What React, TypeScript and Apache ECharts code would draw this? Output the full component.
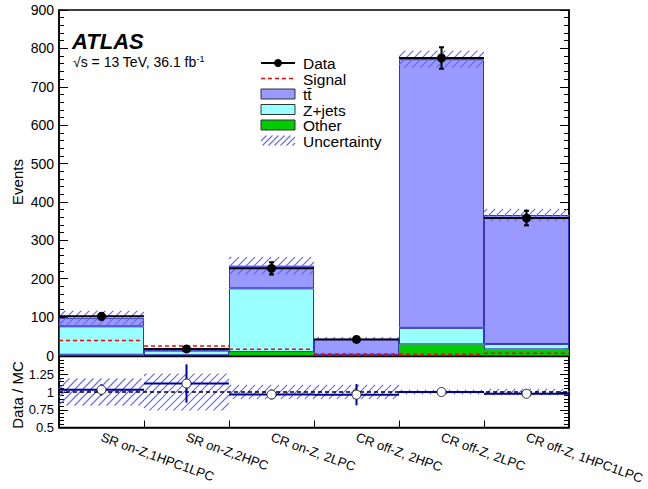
import React, { useEffect, useRef } from 'react';
import * as echarts from 'echarts';

const categories = ['SR on-Z,1HPC1LPC', 'SR on-Z,2HPC', 'CR on-Z, 2LPC', 'CR off-Z, 2HPC', 'CR off-Z, 2LPC', 'CR off-Z, 1HPC1LPC'];
const otherValues = [2, 0.7, 9, 0.6, 29, 16];
const zjetsValues = [74, 12, 166, 1, 43, 14];
const ttValues = [22, 2.5, 59, 42, 700, 336];
const mcTotal = [98, 15.2, 234, 43.6, 772, 366];
const mcUncertainty = [19, 4, 23, 4.4, 22, 16];
const signalValues = [39, 25, 16, 4, 3, 6];
const dataValues = [102, 17, 227, 42, 775, 358];
const dataErrors = [8, 4, 16, 6.5, 28, 19];
const ratioValues = [1.03, 1.12, 0.965, 0.963, 1.0, 0.975];
const ratioErrors = [0.08, 0.27, 0.07, 0.15, 0.036, 0.052];
const ratioBand = [0.19, 0.26, 0.1, 0.1, 0.03, 0.044];
const mainTicks = { min: 0, max: 900, interval: 100 };
const ratioTicks = { min: 0.5, max: 1.5, interval: 0.25 };

const FONT = '"Liberation Sans", Arial, Helvetica, sans-serif';
const HATCH = 'rgb(100, 100, 255)';

function hatchLines(x0: number, y0: number, x1: number, y1: number, step: number, stroke: string) {
  const out: any[] = [];
  const cStart = Math.ceil((x0 + y0) / step) * step;
  for (let c = cStart; c <= x1 + y1; c += step) {
    const lo = Math.max(x0, c - y1);
    const hi = Math.min(x1, c - y0);
    if (hi - lo > 0.3) {
      out.push({ type: 'line', silent: true, shape: { x1: lo, y1: c - lo, x2: hi, y2: c - hi }, style: { stroke, lineWidth: 1.1, opacity: 1 } });
    }
  }
  return out;
}

function hatchRender(params: any, api: any) {
  const i = api.value(0);
  const lo = api.value(1);
  const hi = api.value(2);
  const pTop = api.coord([i, hi]);
  const pBot = api.coord([i, lo]);
  const w = api.size([1, 0])[0];
  return { type: 'group', children: hatchLines(pTop[0] - w / 2, pTop[1], pTop[0] + w / 2, pBot[1], 8, HATCH) };
}

function buildOption() {
  const yAxisCommon = (gridIndex: number, t: any, right: boolean, labels: boolean, fmt?: any) => ({
    type: 'value', gridIndex, min: t.min, max: t.max, interval: t.interval,
    position: right ? 'right' : 'left',
    axisLine: { show: true, lineStyle: { color: '#000', width: 1.5 } },
    axisTick: { show: true, inside: true, length: 9, lineStyle: { color: '#000', width: 1 } },
    minorTick: { show: true, splitNumber: 5, length: 5, lineStyle: { color: '#000', width: 1 } },
    splitLine: { show: false },
    axisLabel: {
      show: labels, color: '#000', fontFamily: FONT, fontSize: gridIndex === 0 ? 14 : 13, margin: 5,
      showMinLabel: true, showMaxLabel: true, hideOverlap: false,
      formatter: fmt,
    },
  });
  const xAxisCommon = (gridIndex: number, labels: boolean) => ({
    type: 'category', gridIndex, data: categories, boundaryGap: true,
    axisLine: { show: true, lineStyle: { color: '#000', width: 1.5 } },
    axisTick: { show: true, inside: true, length: 7, alignWithLabel: false, interval: 0, lineStyle: { color: '#000' } },
    splitLine: { show: false },
    axisLabel: labels
      ? { show: true, interval: 0, rotate: -20, margin: 9, color: '#000', fontFamily: FONT, fontSize: 13, hideOverlap: false }
      : { show: false },
  });

  const barBase = (name: string, values: number[], color: string, border: boolean) => ({
    name, type: 'bar', xAxisIndex: 0, yAxisIndex: 0, stack: 'mc', data: values,
    barCategoryGap: '0%', z: 2,
    itemStyle: { color, borderColor: border ? '#3434c8' : color, borderWidth: border ? 1 : 0 },
    emphasis: { disabled: true },
  });

  const legendRows = [63, 78.5, 94, 109.5, 125, 140.5];
  const legendNames = ['Data', 'Signal', 't\u0074\u0304', 'Z+jets', 'Other', 'Uncertainty'];
  const lx0 = 261, lx1 = 295, tx = 303;
  const legendGraphics: any[] = [
    { type: 'line', shape: { x1: lx0, y1: legendRows[0], x2: lx1, y2: legendRows[0] }, style: { stroke: '#000', lineWidth: 2 } },
    { type: 'circle', shape: { cx: (lx0 + lx1) / 2, cy: legendRows[0], r: 4 }, style: { fill: '#000' } },
    { type: 'line', shape: { x1: lx0, y1: legendRows[1], x2: lx1, y2: legendRows[1] }, style: { stroke: '#ff0000', lineWidth: 1.5, lineDash: [4, 3] } },
    { type: 'rect', shape: { x: lx0, y: legendRows[2] - 5, width: lx1 - lx0, height: 10 }, style: { fill: '#9999ff', stroke: '#333', lineWidth: 1 } },
    { type: 'rect', shape: { x: lx0, y: legendRows[3] - 5, width: lx1 - lx0, height: 10 }, style: { fill: '#99ffff', stroke: '#333', lineWidth: 1 } },
    { type: 'rect', shape: { x: lx0, y: legendRows[4] - 5, width: lx1 - lx0, height: 10 }, style: { fill: '#00cc00', stroke: '#333', lineWidth: 1 } },
    ...hatchLines(lx0, legendRows[5] - 5, lx1, legendRows[5] + 5, 6, HATCH),
    ...legendNames.map((n, k) => ({
      type: 'text', x: tx, y: legendRows[k] + 0.5,
      style: { text: n, fontFamily: FONT, fontSize: 15.5, lineHeight: 15, fill: '#000', align: 'left', verticalAlign: 'middle' },
    })),
  ];

  return {
    animation: false,
    backgroundColor: '#fff',
    grid: [
      { left: 59, top: 10, width: 510, height: 345.5, show: true, borderColor: '#000', borderWidth: 1.5, backgroundColor: 'transparent', containLabel: false, outerBoundsMode: 'none' },
      { left: 59, top: 356.5, width: 510, height: 71, show: true, borderColor: '#000', borderWidth: 1.5, backgroundColor: 'transparent', containLabel: false, outerBoundsMode: 'none' },
    ],
    xAxis: [xAxisCommon(0, false), xAxisCommon(1, true)],
    yAxis: [
      yAxisCommon(0, mainTicks, false, true),
      yAxisCommon(0, mainTicks, true, false),
      yAxisCommon(1, ratioTicks, false, true, (v: number) => (v >= 1.5 ? '' : String(v))),
      yAxisCommon(1, ratioTicks, true, false),
    ],
    series: [
      barBase('Other', otherValues, '#00cc00', false),
      barBase('Z+jets', zjetsValues, '#99ffff', true),
      barBase('tt', ttValues, '#9999ff', true),
      {
        name: 'Signal', type: 'custom', xAxisIndex: 0, yAxisIndex: 0, z: 3,
        itemStyle: { color: '#ff0000' },
        data: signalValues.map((v, i) => [i, v]),
        renderItem: (params: any, api: any) => {
          const p = api.coord([api.value(0), api.value(1)]);
          const w = api.size([1, 0])[0];
          return { type: 'line', shape: { x1: p[0] - w / 2, y1: p[1], x2: p[0] + w / 2, y2: p[1] }, style: { stroke: '#ff0000', lineWidth: 1.5, lineDash: [4, 3] } };
        },
      },
      {
        name: 'Uncertainty', type: 'custom', xAxisIndex: 0, yAxisIndex: 0, z: 4,
        itemStyle: { color: HATCH },
        data: mcTotal.map((v, i) => [i, v - mcUncertainty[i], v + mcUncertainty[i]]),
        renderItem: hatchRender,
      },
      {
        name: 'Data', type: 'custom', xAxisIndex: 0, yAxisIndex: 0, z: 5,
        itemStyle: { color: '#000' },
        data: dataValues.map((v, i) => [i, v, dataErrors[i]]),
        renderItem: (params: any, api: any) => {
          const i = api.value(0), v = api.value(1), e = api.value(2);
          const p = api.coord([i, v]);
          const pu = api.coord([i, v + e]);
          const pd = api.coord([i, v - e]);
          const w = api.size([1, 0])[0];
          const st = { stroke: '#000', lineWidth: 2 };
          return {
            type: 'group', children: [
              { type: 'line', shape: { x1: p[0] - w / 2, y1: p[1], x2: p[0] + w / 2, y2: p[1] }, style: st },
              { type: 'line', shape: { x1: p[0], y1: pu[1], x2: p[0], y2: pd[1] }, style: st },
              { type: 'line', shape: { x1: p[0] - 2.5, y1: pu[1], x2: p[0] + 2.5, y2: pu[1] }, style: st },
              { type: 'line', shape: { x1: p[0] - 2.5, y1: pd[1], x2: p[0] + 2.5, y2: pd[1] }, style: st },
              { type: 'circle', shape: { cx: p[0], cy: p[1], r: 4.5 }, style: { fill: '#000' } },
            ],
          };
        },
      },
      {
        name: 'RatioBand', type: 'custom', xAxisIndex: 1, yAxisIndex: 2, z: 3,
        itemStyle: { color: HATCH },
        data: ratioBand.map((b, i) => [i, 1 - b, 1 + b]),
        renderItem: hatchRender,
        markLine: {
          silent: true, symbol: 'none', animation: false,
          label: { show: false },
          lineStyle: { color: '#000', type: [4, 3], width: 1.5 },
          data: [{ yAxis: 1 }],
        },
      },
      {
        name: 'Ratio', type: 'custom', xAxisIndex: 1, yAxisIndex: 2, z: 5,
        itemStyle: { color: '#000099' },
        data: ratioValues.map((v, i) => [i, v, ratioErrors[i]]),
        renderItem: (params: any, api: any) => {
          const i = api.value(0), v = api.value(1), e = api.value(2);
          const p = api.coord([i, v]);
          const pu = api.coord([i, v + e]);
          const pd = api.coord([i, v - e]);
          const w = api.size([1, 0])[0];
          const st = { stroke: '#000099', lineWidth: 2 };
          return {
            type: 'group', children: [
              { type: 'line', shape: { x1: p[0] - w / 2, y1: p[1], x2: p[0] + w / 2, y2: p[1] }, style: st },
              { type: 'line', shape: { x1: p[0], y1: pu[1], x2: p[0], y2: pd[1] }, style: st },
              { type: 'circle', shape: { cx: p[0], cy: p[1], r: 4.5 }, style: { fill: '#fff', stroke: '#222', lineWidth: 1 } },
            ],
          };
        },
      },
    ],
    graphic: [
      {
        type: 'text', x: 72, y: 41,
        style: { text: 'ATLAS', fontFamily: FONT, fontSize: 22, fontWeight: 'bold', fontStyle: 'italic', fill: '#000', verticalAlign: 'middle' },
      },
      {
        type: 'text', x: 73, y: 62,
        style: {
          text: '{a|\u221As = 13 TeV, 36.1 fb}{b|-1}', verticalAlign: 'middle',
          rich: {
            a: { fontFamily: FONT, fontSize: 14, fill: '#000', lineHeight: 16 },
            b: { fontFamily: FONT, fontSize: 9, fill: '#000', verticalAlign: 'top', lineHeight: 16 },
          },
        },
      },
      {
        type: 'text', x: 17, y: 182, rotation: Math.PI / 2,
        style: { text: 'Events', fontFamily: FONT, fontSize: 15, fill: '#000', align: 'center', verticalAlign: 'middle' },
      },
      {
        type: 'text', x: 17, y: 395, rotation: Math.PI / 2,
        style: { text: 'Data / MC', fontFamily: FONT, fontSize: 15, fill: '#000', align: 'center', verticalAlign: 'middle' },
      },
      ...legendGraphics,
    ],
  };
}

export default function App() {
  const ref = useRef<HTMLDivElement>(null);
  useEffect(() => {
    if (!ref.current) return;
    const chart = echarts.init(ref.current, null, { renderer: 'svg' });
    chart.setOption(buildOption() as any);
    return () => chart.dispose();
  }, []);
  return <div ref={ref} style={{ position: 'fixed', left: 0, top: 0, width: 648, height: 489, background: '#fff' }} />;
}
